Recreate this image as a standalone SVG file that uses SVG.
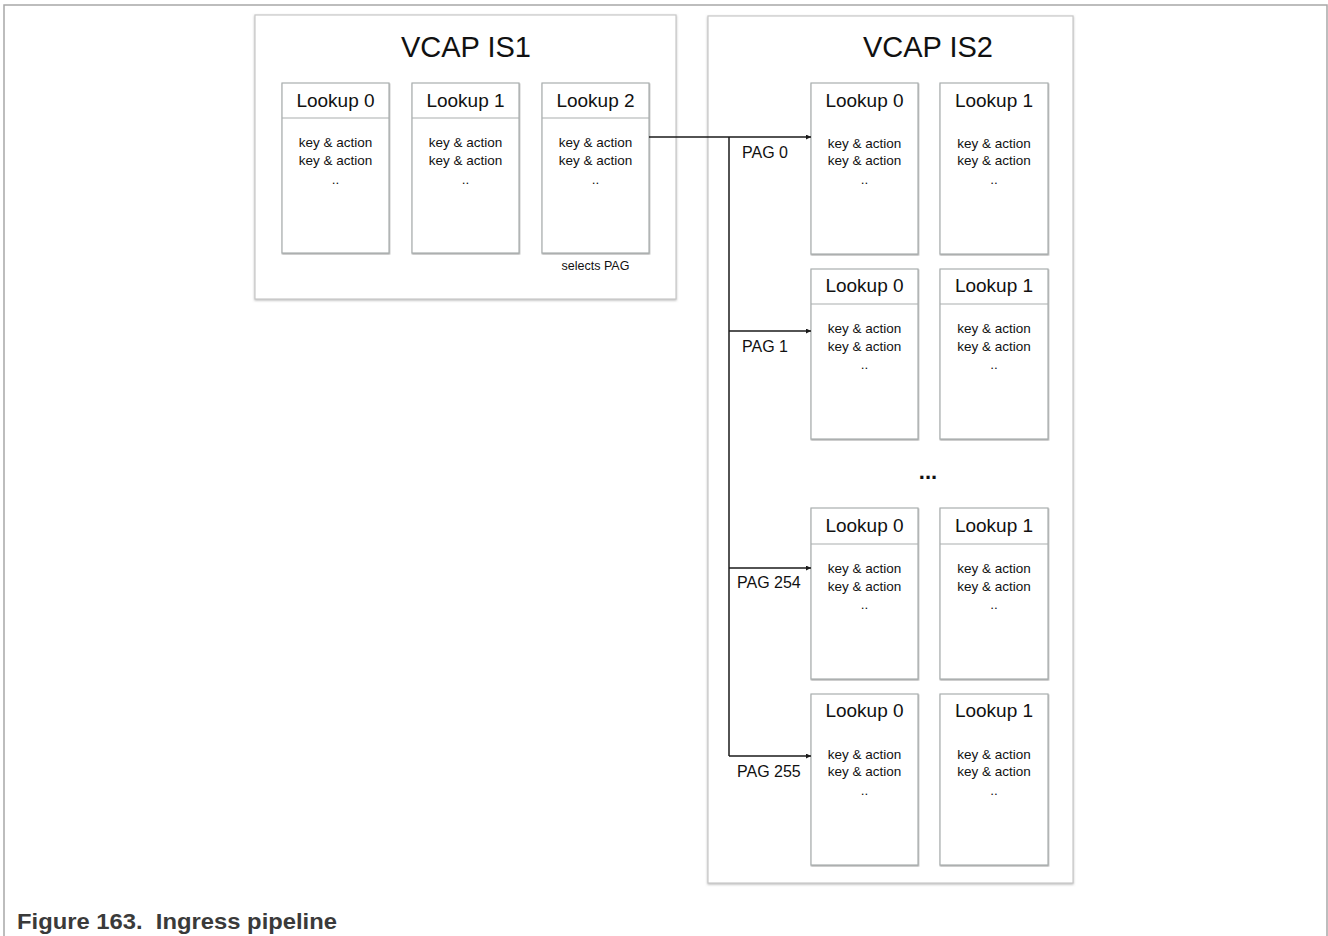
<svg xmlns="http://www.w3.org/2000/svg" width="1328" height="936" viewBox="0 0 1328 936">
<defs>
<style>
text{font-family:"Liberation Sans",Arial,sans-serif;fill:#111}
.frame{fill:none;stroke:#a8a8a8;stroke-width:1.5}
.vcap{fill:#fff;stroke:#c8c8c8;stroke-width:1.2;filter:url(#sh)}
.lk{fill:#fff;stroke:#a9aeae;stroke-width:1.2;filter:url(#sh2)}
.div{stroke:#a9aeae;stroke-width:1.2}
.title{font-size:29px;text-anchor:middle}
.hd{font-size:19px;text-anchor:middle}
.ka{font-size:13.5px;text-anchor:middle}
.pag{font-size:16px}
.conn{fill:none;stroke:#1a1a1a;stroke-width:1.5}
</style>
<filter id="sh" x="-5%" y="-5%" width="110%" height="110%">
<feDropShadow dx="0" dy="1" stdDeviation="1" flood-color="#888" flood-opacity="0.6"/>
</filter>
<filter id="sh2" x="-5%" y="-5%" width="110%" height="110%">
<feDropShadow dx="0.5" dy="1" stdDeviation="0.6" flood-color="#777" flood-opacity="0.6"/>
</filter>
<marker id="ah" markerWidth="6" markerHeight="6" refX="5" refY="2.5" orient="auto" markerUnits="userSpaceOnUse">
<path d="M0,0 L5,2.5 L0,5 Z" fill="#1a1a1a"/>
</marker>
</defs>
<rect width="1328" height="936" fill="#fff"/>
<path class="frame" d="M4,936 V5 H1327 V936"/>

<g id="vcap_is1">
<rect class="vcap" x="255" y="15" width="421" height="284"/>
<text class="title" x="466" y="57">VCAP IS1</text>
</g>
<g id="is1_lookup0">
<rect class="lk" x="282" y="83" width="107" height="170"/>
<line class="div" x1="282" y1="118" x2="389" y2="118"/>
<text class="hd" x="335.5" y="107">Lookup 0</text>
<text class="ka" x="335.5" y="147">key &amp; action</text>
<text class="ka" x="335.5" y="165">key &amp; action</text>
<text class="ka" x="335.5" y="184">..</text>
</g>
<g id="is1_lookup1">
<rect class="lk" x="412" y="83" width="107" height="170"/>
<line class="div" x1="412" y1="118" x2="519" y2="118"/>
<text class="hd" x="465.5" y="107">Lookup 1</text>
<text class="ka" x="465.5" y="147">key &amp; action</text>
<text class="ka" x="465.5" y="165">key &amp; action</text>
<text class="ka" x="465.5" y="184">..</text>
</g>
<g id="is1_lookup2">
<rect class="lk" x="542" y="83" width="107" height="170"/>
<line class="div" x1="542" y1="118" x2="649" y2="118"/>
<text class="hd" x="595.5" y="107">Lookup 2</text>
<text class="ka" x="595.5" y="147">key &amp; action</text>
<text class="ka" x="595.5" y="165">key &amp; action</text>
<text class="ka" x="595.5" y="184">..</text>
<text class="ka" x="595.5" y="270" style="font-size:12.5px">selects PAG</text>
</g>

<g id="vcap_is2">
<rect class="vcap" x="708" y="16" width="365" height="867"/>
<text class="title" x="928" y="57">VCAP IS2</text>
</g>

<g id="is2_pag0_lookup0">
<rect class="lk" x="811" y="83" width="107" height="171"/>
<text class="hd" x="864.5" y="107">Lookup 0</text>
<text class="ka" x="864.5" y="148">key &amp; action</text>
<text class="ka" x="864.5" y="165">key &amp; action</text>
<text class="ka" x="864.5" y="184">..</text>
</g>
<g id="is2_pag0_lookup1">
<rect class="lk" x="940" y="83" width="108" height="171"/>
<text class="hd" x="994" y="107">Lookup 1</text>
<text class="ka" x="994" y="148">key &amp; action</text>
<text class="ka" x="994" y="165">key &amp; action</text>
<text class="ka" x="994" y="184">..</text>
</g>

<g id="is2_pag1_lookup0">
<rect class="lk" x="811" y="269" width="107" height="170"/>
<line class="div" x1="811" y1="304" x2="918" y2="304"/>
<text class="hd" x="864.5" y="292">Lookup 0</text>
<text class="ka" x="864.5" y="333">key &amp; action</text>
<text class="ka" x="864.5" y="351">key &amp; action</text>
<text class="ka" x="864.5" y="369">..</text>
</g>
<g id="is2_pag1_lookup1">
<rect class="lk" x="940" y="269" width="108" height="170"/>
<line class="div" x1="940" y1="304" x2="1048" y2="304"/>
<text class="hd" x="994" y="292">Lookup 1</text>
<text class="ka" x="994" y="333">key &amp; action</text>
<text class="ka" x="994" y="351">key &amp; action</text>
<text class="ka" x="994" y="369">..</text>
</g>

<g id="ellipsis">
<text x="928" y="479" style="font-size:22px;text-anchor:middle;font-weight:bold">...</text>
</g>

<g id="is2_pag254_lookup0">
<rect class="lk" x="811" y="508" width="107" height="171"/>
<line class="div" x1="811" y1="544" x2="918" y2="544"/>
<text class="hd" x="864.5" y="532">Lookup 0</text>
<text class="ka" x="864.5" y="573">key &amp; action</text>
<text class="ka" x="864.5" y="591">key &amp; action</text>
<text class="ka" x="864.5" y="609">..</text>
</g>
<g id="is2_pag254_lookup1">
<rect class="lk" x="940" y="508" width="108" height="171"/>
<line class="div" x1="940" y1="544" x2="1048" y2="544"/>
<text class="hd" x="994" y="532">Lookup 1</text>
<text class="ka" x="994" y="573">key &amp; action</text>
<text class="ka" x="994" y="591">key &amp; action</text>
<text class="ka" x="994" y="609">..</text>
</g>

<g id="is2_pag255_lookup0">
<rect class="lk" x="811" y="694" width="107" height="171"/>
<text class="hd" x="864.5" y="717">Lookup 0</text>
<text class="ka" x="864.5" y="759">key &amp; action</text>
<text class="ka" x="864.5" y="776">key &amp; action</text>
<text class="ka" x="864.5" y="795">..</text>
</g>
<g id="is2_pag255_lookup1">
<rect class="lk" x="940" y="694" width="108" height="171"/>
<text class="hd" x="994" y="717">Lookup 1</text>
<text class="ka" x="994" y="759">key &amp; action</text>
<text class="ka" x="994" y="776">key &amp; action</text>
<text class="ka" x="994" y="795">..</text>
</g>

<g id="connectors">
<path class="conn" d="M649,137 H811" marker-end="url(#ah)"/>
<path class="conn" d="M729,137 V756"/>
<path class="conn" d="M729,331 H811" marker-end="url(#ah)"/>
<path class="conn" d="M729,568 H811" marker-end="url(#ah)"/>
<path class="conn" d="M729,756 H811" marker-end="url(#ah)"/>
<text class="pag" x="742" y="158">PAG 0</text>
<text class="pag" x="742" y="352">PAG 1</text>
<text class="pag" x="737" y="588">PAG 254</text>
<text class="pag" x="737" y="777">PAG 255</text>
</g>

<g id="caption">
<text x="17" y="929" xml:space="preserve" textLength="320" lengthAdjust="spacingAndGlyphs" style="font-size:22px;font-weight:bold;fill:#3a3a3a">Figure 163.  Ingress pipeline</text>
</g>
</svg>
